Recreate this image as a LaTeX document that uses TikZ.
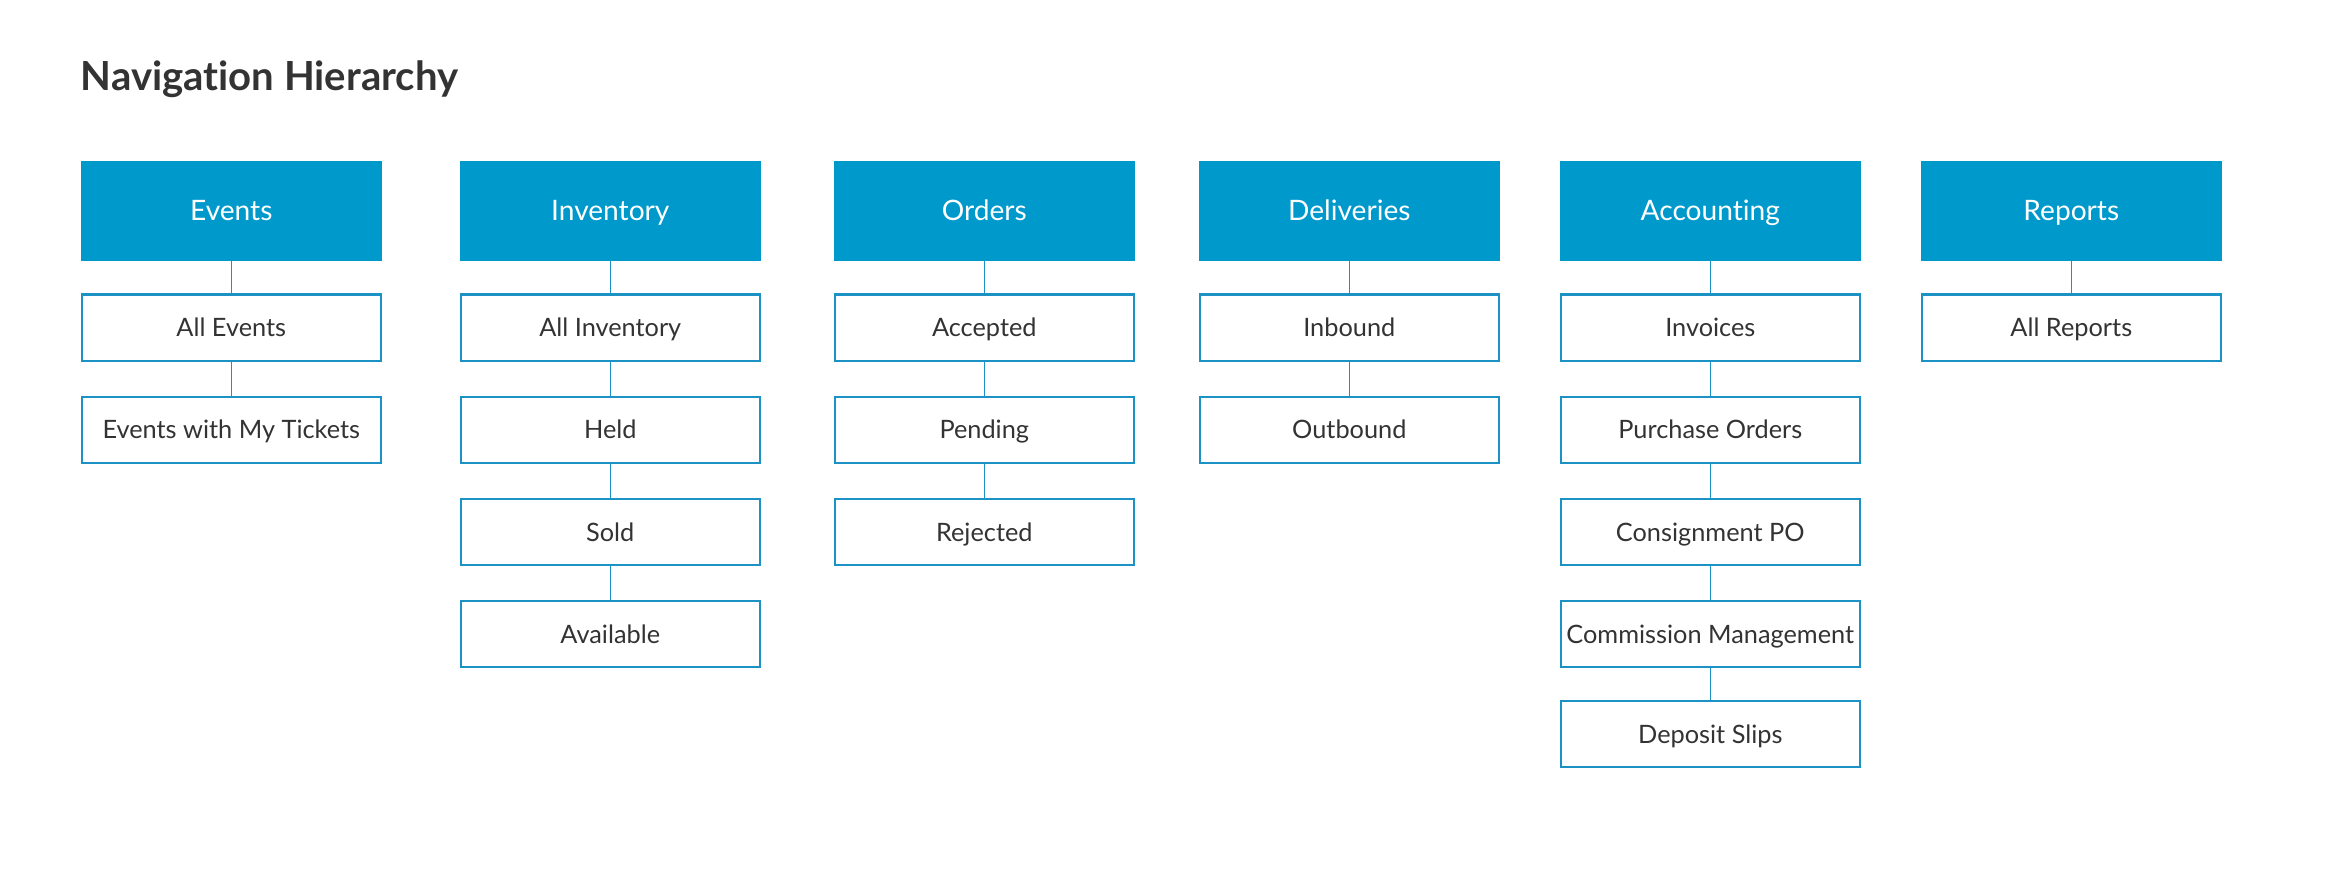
\documentclass[tikz,border=0pt]{standalone}
\usepackage{fontspec}
\setmainfont{Lato}[Ligatures=NoCommon]
\usetikzlibrary{positioning}
\definecolor{navblue}{RGB}{0,153,204}
\definecolor{navline}{RGB}{28,145,195}
\definecolor{navtext}{RGB}{51,51,51}

\begin{document}
\begin{tikzpicture}[x=0.01cm,y=-0.01cm,
    head/.style={fill=navblue,text=white,minimum width=3.01cm,minimum height=1.00cm,
      inner sep=0pt,anchor=north west,text height=5.75pt,text depth=0pt,
      font=\fontsize{8}{9}\selectfont},
    item/.style={draw=navline,line width=0.6pt,text=navtext,minimum width=2.99cm,
      minimum height=0.66cm,inner sep=0pt,text height=5.2pt,text depth=0pt,
      font=\fontsize{7.2}{8}\selectfont},
    link/.style={navline,line width=0.4pt},
    node distance=0.34cm]
  \useasboundingbox (0,0) rectangle (2330,890);
  \node[anchor=base west,text=navtext,inner sep=0pt,font=\fontsize{11.4}{14}\bfseries\selectfont] (title) at (80,90) {Navigation Hierarchy};

  % column heads
  \node[head] (events) at (80,160) {Events};
  \node[head] (inventory) at (459,160) {Inventory};
  \node[head] (orders) at (833,160) {Orders};
  \node[head] (deliveries) at (1198,160) {Deliveries};
  \node[head] (accounting) at (1559,160) {Accounting};
  \node[head] (reports) at (1920,160) {Reports};

  % Events
  \node[item,below=0.32cm of events] (allevents) {All Events};
  \node[item,below=of allevents] (mytickets) {Events with My Tickets};
  \draw[link] (events) -- (allevents);
  \draw[link] (allevents) -- (mytickets);

  % Inventory
  \node[item,below=0.32cm of inventory] (allinv) {All Inventory};
  \node[item,below=of allinv] (held) {Held};
  \node[item,below=of held] (sold) {Sold};
  \node[item,below=of sold] (available) {Available};
  \draw[link] (inventory) -- (allinv);
  \draw[link] (allinv) -- (held);
  \draw[link] (held) -- (sold);
  \draw[link] (sold) -- (available);

  % Orders
  \node[item,below=0.32cm of orders] (accepted) {Accepted};
  \node[item,below=of accepted] (pending) {Pending};
  \node[item,below=of pending] (rejected) {Rejected};
  \draw[link] (orders) -- (accepted);
  \draw[link] (accepted) -- (pending);
  \draw[link] (pending) -- (rejected);

  % Deliveries
  \node[item,below=0.32cm of deliveries] (inbound) {Inbound};
  \node[item,below=of inbound] (outbound) {Outbound};
  \draw[link] (deliveries) -- (inbound);
  \draw[link] (inbound) -- (outbound);

  % Accounting
  \node[item,below=0.32cm of accounting] (invoices) {Invoices};
  \node[item,below=of invoices] (purchase) {Purchase Orders};
  \node[item,below=of purchase] (consign) {Consignment PO};
  \node[item,below=of consign] (commission) {Commission Management};
  \node[item,below=0.32cm of commission] (deposit) {Deposit Slips};
  \draw[link] (accounting) -- (invoices);
  \draw[link] (invoices) -- (purchase);
  \draw[link] (purchase) -- (consign);
  \draw[link] (consign) -- (commission);
  \draw[link] (commission) -- (deposit);

  % Reports
  \node[item,below=0.32cm of reports] (allreports) {All Reports};
  \draw[link] (reports) -- (allreports);
\end{tikzpicture}
\end{document}
